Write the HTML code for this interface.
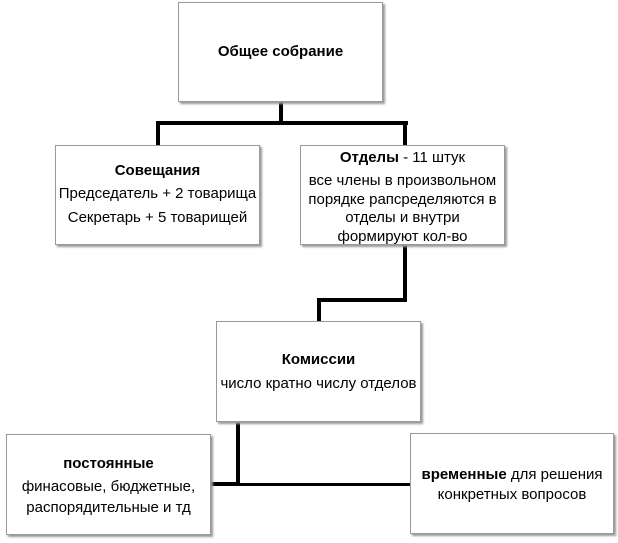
<!DOCTYPE html>
<html><head><meta charset="utf-8"><style>
body{margin:0;width:618px;height:543px;background:#fff;position:relative;overflow:hidden;font-family:"Liberation Sans","DejaVu Sans",sans-serif;font-size:15px;color:#000}
.b{position:absolute;background:#fff;border:1px solid #9a9a9a;box-shadow:2px 2px 2px #999;box-sizing:border-box}
.t{position:absolute;left:-4px;right:-4px;text-align:center;white-space:nowrap}
.l{position:absolute;background:#000}
</style></head><body>
<div class="l" style="left:279px;top:100px;width:4px;height:25px"></div>
<div class="l" style="left:156px;top:121px;width:252px;height:4px"></div>
<div class="l" style="left:156px;top:121px;width:4px;height:26px"></div>
<div class="l" style="left:403px;top:121px;width:4px;height:26px"></div>
<div class="l" style="left:403px;top:244px;width:4px;height:58px"></div>
<div class="l" style="left:317px;top:298px;width:90px;height:4px"></div>
<div class="l" style="left:317px;top:298px;width:4px;height:25px"></div>
<div class="l" style="left:236px;top:420px;width:4px;height:66px"></div>
<div class="l" style="left:210px;top:482px;width:30px;height:4px"></div>
<div class="l" style="left:236px;top:483px;width:176px;height:3px"></div>

<div class="b" style="left:178px;top:2px;width:205px;height:100px"><div class="t" style="top:40px;font-weight:bold">Общее собрание</div></div>
<div class="b" style="left:55px;top:145px;width:205px;height:100px">
<div class="t" style="top:16px;font-weight:bold">Совещания</div>
<div class="t" style="top:39px">Председатель + 2 товарища</div>
<div class="t" style="top:63px">Секретарь + 5 товарищей</div></div>
<div class="b" style="left:300px;top:145px;width:205px;height:100px">
<div class="t" style="top:3px"><b>Отделы</b> - 11 штук</div>
<div class="t" style="top:26px;line-height:18.5px">все члены в произвольном<br>порядке рапсределяются в<br>отделы и внутри<br>формируют кол-во</div></div>
<div class="b" style="left:216px;top:321px;width:205px;height:101px">
<div class="t" style="top:29px;font-weight:bold">Комиссии</div>
<div class="t" style="top:53px">число кратно числу отделов</div></div>
<div class="b" style="left:6px;top:434px;width:205px;height:101px">
<div class="t" style="top:20px;font-weight:bold">постоянные</div>
<div class="t" style="top:41px;line-height:21px">финасовые, бюджетные,<br>распорядительные и тд</div></div>
<div class="b" style="left:410px;top:433px;width:204px;height:101px">
<div class="t" style="top:31px;line-height:20px"><b>временные</b> для решения<br>конкретных вопросов</div></div>
</body></html>
